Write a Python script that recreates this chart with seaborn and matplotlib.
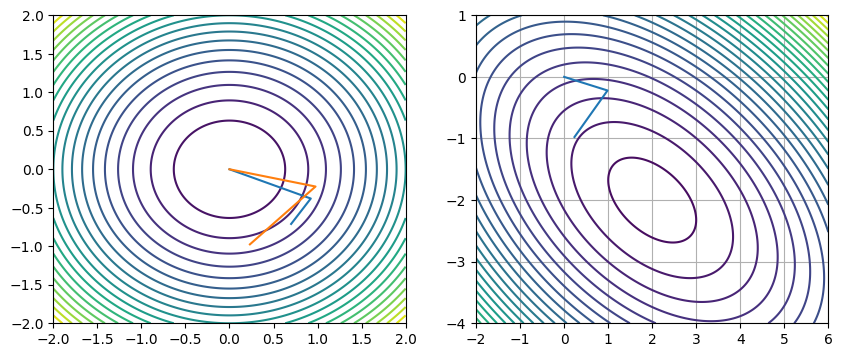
import numpy as np
import seaborn as sns
import matplotlib
matplotlib.use("Agg")
import matplotlib.pyplot as plt

# left panel: round bowl f = x^2 + y^2
left_xlim = [-2, 2]
left_ylim = [-2, 2]

# paths drawn on the left panel
path_a_x = [0.0, 0.923, 0.70]
path_a_y = [0.0, -0.380, -0.71]
path_b_x = [0.0, 0.977, 0.232]
path_b_y = [0.0, -0.224, -0.975]

# right panel: tilted quadratic bowl
right_xlim = [-2, 6]
right_ylim = [-4, 1]
bowl_center = [2.0, -2.0]
bowl_matrix = [[0.54, 0.367], [0.367, 1.134]]
bowl_offset = -0.42

path_c_x = [0.0, 0.985, 0.235]
path_c_y = [0.0, -0.221, -0.976]


def round_bowl(X, Y):
    return X ** 2 + Y ** 2


def tilted_bowl(X, Y):
    dx = X - bowl_center[0]
    dy = Y - bowl_center[1]
    A = bowl_matrix
    return A[0][0] * dx ** 2 + 2 * A[0][1] * dx * dy + A[1][1] * dy ** 2 + bowl_offset


def main():
    fig, axes = plt.subplots(1, 2, figsize=(10, 4))

    # Left panel
    ax = axes[0]
    X, Y = np.meshgrid(np.linspace(*left_xlim, 300), np.linspace(*left_ylim, 300))
    ax.contour(X, Y, round_bowl(X, Y), levels=20, cmap="viridis")
    sns.lineplot(x=path_a_x, y=path_a_y, sort=False, estimator=None,
                 color="#1f77b4", linewidth=1.5, ax=ax)
    sns.lineplot(x=path_b_x, y=path_b_y, sort=False, estimator=None,
                 color="#ff7f0e", linewidth=1.5, ax=ax)
    ax.set_xlim(left_xlim)
    ax.set_ylim(left_ylim)

    # Right panel
    ax = axes[1]
    X, Y = np.meshgrid(np.linspace(*right_xlim, 400), np.linspace(*right_ylim, 400))
    ax.contour(X, Y, tilted_bowl(X, Y), levels=30, cmap="viridis")
    sns.lineplot(x=path_c_x, y=path_c_y, sort=False, estimator=None,
                 color="#1f77b4", linewidth=1.5, ax=ax)
    ax.set_xlim(right_xlim)
    ax.set_ylim(right_ylim)
    ax.grid(True)

    plt.savefig("out.png", dpi=100, bbox_inches="tight")
    plt.close()


if __name__ == "__main__":
    main()
